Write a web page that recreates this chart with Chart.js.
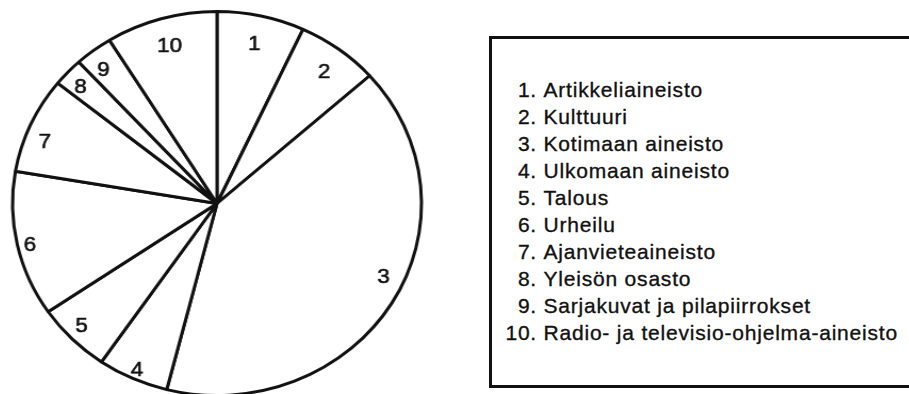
<!DOCTYPE html>
<html lang="fi">
<head>
<meta charset="utf-8">
<title>Aineistojen osuudet</title>
<script src="https://cdn.jsdelivr.net/npm/chart.js@4.4.0/dist/chart.umd.min.js"></script>
<style>
    html, body {
        margin: 0;
        padding: 0;
        width: 909px;
        height: 394px;
        overflow: hidden;
        background: #fff;
    }
    #pieWrap {
        position: absolute;
        left: 3.5px;
        top: 0;
        width: 400px;
        height: 420px;
        transform: scaleX(1.065);
        transform-origin: 0 0;
    }
    #legendBox {
        position: absolute;
        left: 489px;
        top: 36px;
        width: 600px;
        height: 352px;
        box-sizing: border-box;
        border: 3px solid #111;
    }
    #legendList {
        position: absolute;
        left: 505px;
        top: 76px;
        font-family: "Liberation Sans", Arial, sans-serif;
        font-size: 21px;
        letter-spacing: 0.8px;
        line-height: 27px;
        color: #111;
        -webkit-text-stroke: 0.35px #111;
        white-space: nowrap;
    }
    #legendList .num {
        display: inline-block;
        width: 32px;
        margin-right: 6.5px;
        text-align: right;
    }
</style>
</head>
<body>
<div id="pieWrap"><canvas id="pieChart"></canvas></div>
<div id="legendBox"></div>
<div id="legendList"></div>

<script>
const categories = [
    'Artikkeliaineisto',
    'Kulttuuri',
    'Kotimaan aineisto',
    'Ulkomaan aineisto',
    'Talous',
    'Urheilu',
    'Ajanvieteaineisto',
    'Yleisön osasto',
    'Sarjakuvat ja pilapiirrokset',
    'Radio- ja televisio-ohjelma-aineisto'
];
const shares = [6.9, 6.5, 40.5, 5.6, 5.9, 12.2, 8.1, 2.4, 3.0, 8.8];

// number labels sit near the rim; small nudges keep them clear of the lines
const labelRadius = [0.85, 0.86, 0.90, 0.95, 0.92, 0.94, 0.90, 0.90, 0.89, 0.85];
const labelTurn = [0, 1, -6, 0, 1, -1, -3.5, -1, -1.5, 0];

const sliceNumbers = {
    id: 'sliceNumbers',
    afterDatasetsDraw(chart) {
        const ctx = chart.ctx;
        const meta = chart.getDatasetMeta(0);
        ctx.save();
        ctx.font = '21px "Liberation Sans", Arial, sans-serif';
        ctx.fillStyle = '#111';
        ctx.strokeStyle = '#111';
        ctx.lineWidth = 0.6;
        ctx.textAlign = 'center';
        ctx.textBaseline = 'middle';
        meta.data.forEach((arc, i) => {
            const p = arc.getProps(['x', 'y', 'startAngle', 'endAngle', 'outerRadius'], true);
            const a = (p.startAngle + p.endAngle) / 2 + labelTurn[i] * Math.PI / 180;
            const r = p.outerRadius * labelRadius[i];
            const tx = p.x + r * Math.cos(a);
            const ty = p.y + r * Math.sin(a);
            ctx.fillText(String(i + 1), tx, ty);
            ctx.strokeText(String(i + 1), tx, ty);
        });
        ctx.restore();
    }
};

const ctx = document.getElementById('pieChart').getContext('2d');
new Chart(ctx, {
    type: 'pie',
    data: {
        labels: categories,
        datasets: [{
            data: shares,
            backgroundColor: '#fff',
            borderColor: '#111',
            borderWidth: 3
        }]
    },
    options: {
        responsive: true,
        maintainAspectRatio: false,
        animation: false,
        events: [],
        layout: {
            padding: { top: 10, bottom: 23, left: 6.5, right: 6.5 }
        },
        plugins: {
            legend: { display: false },
            tooltip: { enabled: false }
        }
    },
    plugins: [sliceNumbers]
});

const list = document.getElementById('legendList');
categories.forEach((name, i) => {
    const row = document.createElement('div');
    row.innerHTML = `<span class="num">${i + 1}.</span>${name}`;
    list.appendChild(row);
});
</script>
</body>
</html>
